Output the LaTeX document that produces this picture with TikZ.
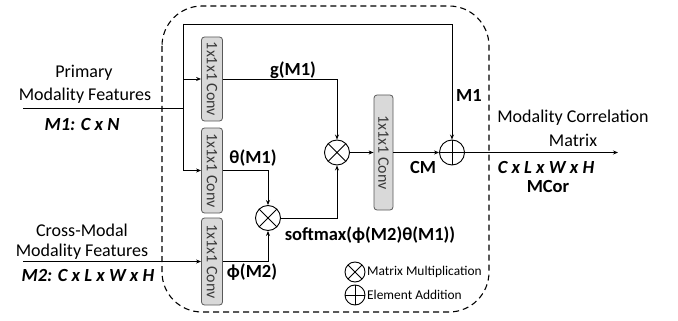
\documentclass[tikz,border=0pt]{standalone}
\usepackage{fontspec}
\setmainfont{Carlito}
\usetikzlibrary{arrows.meta}
\definecolor{convfill}{HTML}{D9D9D9}
\definecolor{convdraw}{HTML}{595959}
\definecolor{convtext}{HTML}{3A3A3A}
\tikzset{
  arr/.style={-{Stealth[length=5pt,width=4pt]}, line width=0.9pt},
  ln/.style={line width=0.9pt},
  conv/.style={draw=convdraw, fill=convfill, rounded corners=3pt, line width=0.8pt,
    minimum width=21pt, inner sep=0pt, text=convtext,
    font=\fontsize{16}{18}\selectfont},
  opmul/.style={circle, draw, line width=0.9pt, minimum size=#1, inner sep=0pt,
    path picture={\draw[line width=0.9pt] (path picture bounding box.north west) -- (path picture bounding box.south east)
      (path picture bounding box.north east) -- (path picture bounding box.south west);}},
  opadd/.style={circle, draw, line width=0.9pt, minimum size=#1, inner sep=0pt,
    path picture={\draw[line width=0.9pt] (path picture bounding box.north) -- (path picture bounding box.south)
      (path picture bounding box.east) -- (path picture bounding box.west);}},
  lbl/.style={font=\fontsize{18}{21}\selectfont, inner sep=0pt},
  blbl/.style={font=\fontsize{18.5}{21}\selectfont\bfseries, inner sep=0pt},
  ilbl/.style={font=\fontsize{18.5}{21}\selectfont\bfseries\itshape, inner sep=0pt},
  leg/.style={font=\fontsize{13.4}{15}\selectfont, inner sep=0pt, anchor=west},
}
\begin{document}
\begin{tikzpicture}[x=1pt,y=-1pt]
\useasboundingbox (0,0) rectangle (678,321);
% dashed module border
\draw[dashed, line width=1.1pt, dash pattern=on 6pt off 4pt, rounded corners=40pt] (162,6) rectangle (489,312);
% conv boxes
\node[conv, minimum height=84pt] (c1) at (212,79) {\rotatebox{-90}{1x1x1 Conv}};
\node[conv, minimum height=85pt] (c2) at (212,170.5) {\rotatebox{-90}{1x1x1 Conv}};
\node[conv, minimum height=87pt] (c3) at (212,261.5) {\rotatebox{-90}{1x1x1 Conv}};
\node[conv, minimum height=115pt, minimum width=19pt] (c4) at (383.5,152.5) {\rotatebox{-90}{1x1x1 Conv}};
% operators
\node[opmul=25pt] (mul1) at (337,152.5) {};
\node[opmul=25pt] (mul2) at (268,218) {};
\node[opadd=25pt] (plus) at (452,152.5) {};
% coordinates
\coordinate (in1) at (23,108);
\coordinate (in2) at (23,261.5);
\coordinate (tl) at (183,24);
\coordinate (tr) at (452,24);
\coordinate (out) at (618,152.5);
% connectors
\draw[arr] (in1) -| (tl) -- (tr) -- (plus.north);
\draw[arr] (tl) |- (c1.west);
\draw[arr] (tl) |- (c2.west);
\draw[arr] (in2) -- (c3.west);
\draw[arr] (c1.east) -| (mul1.north);
\draw[arr] (c2.east) -| (mul2.north);
\draw[arr] (c3.east) -| (mul2.south);
\draw[arr] (mul2.east) -| (mul1.south);
\draw[arr] (mul1.east) -- (c4.west);
\draw[arr] (c4.east) -- (plus.west);
\draw[arr] (plus.east) -- (out);
% labels
\node[lbl] (t1) at (84,73) {Primary};
\node[lbl] (t2) at (85,96) {Modality Features};
\node[ilbl] (t3) at (82,124) {M1: C x N};
\node[lbl] (t4) at (82,230) {Cross-Modal};
\node[lbl] (t5) at (82,252) {Modality Features};
\node[ilbl] (t6) at (88,275) {M2: C x L x W x H};
\node[blbl] (g) at (293,70) {g(M1)};
\node[blbl] (th) at (253,158) {θ(M1)};
\node[blbl] (ph) at (252,272) {ϕ(M2)};
\node[blbl] (sm) at (370,235) {softmax(ϕ(M2)θ(M1))};
\node[blbl] (cm) at (423,167) {CM};
\node[blbl] (m1) at (469,95) {M1};
\node[lbl] (r1) at (573,118) {Modality Correlation};
\node[lbl] (r2) at (573,140) {Matrix};
\node[ilbl] (r3) at (546,167) {C x L x W x H};
\node[blbl] (r4) at (548,187) {MCor};
% legend
\node[opmul=20pt] (lm) at (355,272) {};
\node[leg] (lmt) at (367,272) {Matrix Multiplication};
\node[opadd=20pt] (la) at (355,295) {};
\node[leg] (lat) at (367,295) {Element Addition};
\end{tikzpicture}
\end{document}
